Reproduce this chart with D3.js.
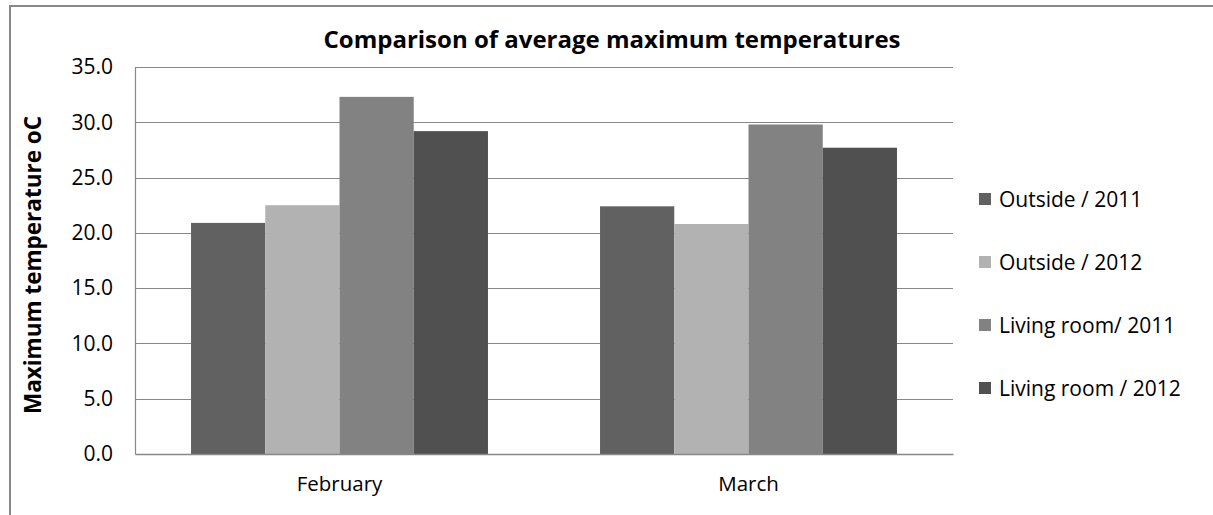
<!DOCTYPE html>
<html>
<head>
<meta charset="utf-8">
<script src="https://cdn.jsdelivr.net/npm/d3@7"></script>
<style>
  html, body { margin: 0; padding: 0; background: #fff; }
  svg { display: block; }
  text { font-family: "Open Sans", sans-serif; fill: #000; }
</style>
</head>
<body>
<svg id="chart" width="1213" height="515"></svg>
<script>
// Average maximum temperatures (°C) per month and series
const months = ["February", "March"];
const seriesNames = ["Outside / 2011", "Outside / 2012", "Living room/ 2011", "Living room / 2012"];
const outside2011 = [20.9, 22.4];
const outside2012 = [22.5, 20.8];
const living2011 = [32.3, 29.8];
const living2012 = [29.2, 27.7];
const seriesColors = ["#616161", "#b2b2b2", "#828282", "#505050"];
const yTicks = [0, 5, 10, 15, 20, 25, 30, 35];

const seriesValues = [outside2011, outside2012, living2011, living2012];
const rows = months.map((m, i) => ({
  month: m,
  values: seriesNames.map((s, j) => ({ series: s, idx: j, value: seriesValues[j][i] }))
}));

const svg = d3.select("#chart");
const plot = { left: 135, right: 953, top: 67, bottom: 454 };
const font = "'Open Sans', sans-serif";

// outer chart frame
svg.append("rect")
  .attr("x", 10).attr("y", 6)
  .attr("width", 1240).attr("height", 540)
  .attr("fill", "none").attr("stroke", "#888").attr("stroke-width", 2);

const x0 = d3.scaleBand()
  .domain(months)
  .range([plot.left, plot.right])
  .paddingInner(0.274)
  .paddingOuter(0.137);

const x1 = d3.scaleBand()
  .domain(seriesNames)
  .range([0, x0.bandwidth()]);

const y = d3.scaleLinear()
  .domain([0, 35])
  .range([plot.bottom, plot.top]);

// horizontal gridlines
svg.append("g")
  .selectAll("line")
  .data(yTicks.filter(d => d > 0))
  .join("line")
  .attr("x1", plot.left).attr("x2", plot.right)
  .attr("y1", d => Math.round(y(d)) + 0.5).attr("y2", d => Math.round(y(d)) + 0.5)
  .attr("stroke", "#888").attr("stroke-width", 1.2);

// bars
svg.append("g")
  .selectAll("g")
  .data(rows)
  .join("g")
  .attr("transform", d => `translate(${x0(d.month)},0)`)
  .selectAll("rect")
  .data(d => d.values)
  .join("rect")
  .attr("x", d => x1(d.series))
  .attr("width", x1.bandwidth())
  .attr("y", d => y(d.value))
  .attr("height", d => y(0) - y(d.value))
  .attr("fill", d => seriesColors[d.idx]);

// y axis
const yAxis = svg.append("g")
  .attr("transform", `translate(${plot.left},0)`)
  .call(d3.axisLeft(y).tickValues(yTicks).tickFormat(d3.format(".1f")).tickSize(0).tickPadding(22));
yAxis.select(".domain").attr("stroke", "#888").attr("stroke-width", 1.2);
yAxis.selectAll("text")
  .style("font-family", font)
  .style("font-size", "21px").attr("fill", "#000");

// x axis
const xAxis = svg.append("g")
  .attr("transform", `translate(0,${plot.bottom})`)
  .call(d3.axisBottom(x0).tickSize(0).tickPadding(22).tickSizeOuter(0));
xAxis.select(".domain").attr("stroke", "#888").attr("stroke-width", 1.5);
xAxis.selectAll("text")
  .style("font-family", font)
  .style("font-size", "20.5px").attr("fill", "#000");

// title
svg.append("text")
  .attr("x", 612).attr("y", 48)
  .attr("text-anchor", "middle")
  .style("font-size", "24px").style("font-weight", "bold")
  .text("Comparison of average maximum temperatures");

// y axis title
svg.append("text")
  .attr("transform", "translate(41,265) rotate(-90)")
  .attr("text-anchor", "middle")
  .style("font-size", "22.5px").style("font-weight", "bold")
  .text("Maximum temperature oC");

// legend
const legend = svg.append("g")
  .selectAll("g")
  .data(seriesNames)
  .join("g")
  .attr("transform", (d, i) => `translate(979,${199 + i * 63})`);
legend.append("rect")
  .attr("x", 0).attr("y", -6)
  .attr("width", 12).attr("height", 12)
  .attr("fill", (d, i) => seriesColors[i]);
legend.append("text")
  .attr("x", 20).attr("y", 0)
  .attr("dy", "0.36em")
  .style("font-size", "21px")
  .text(d => d);
</script>
</body>
</html>
